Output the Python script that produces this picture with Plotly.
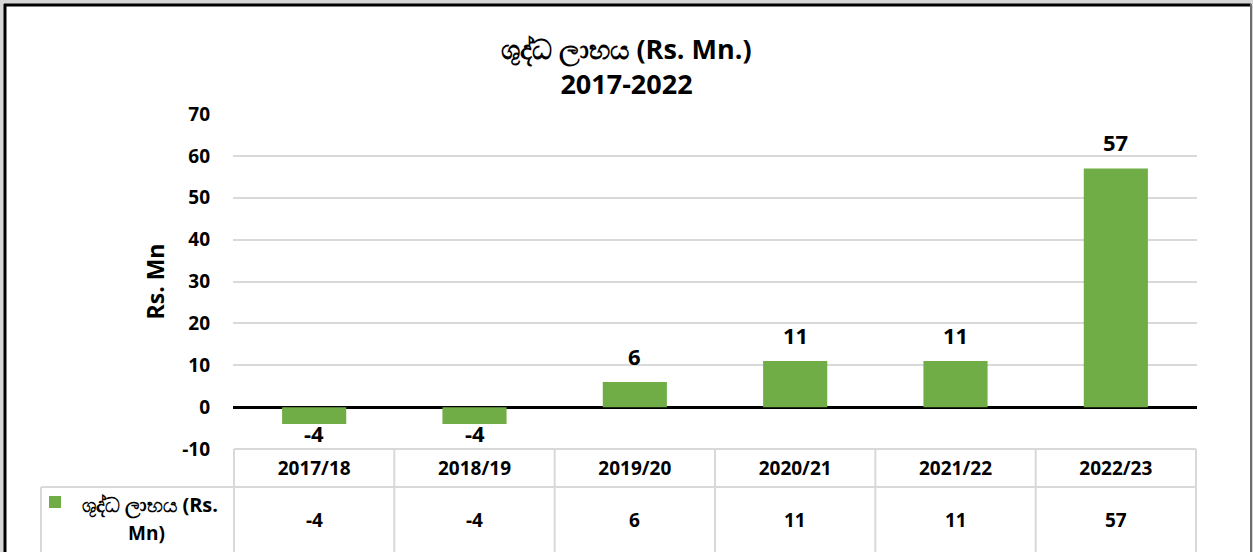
import plotly.graph_objects as go

categories = ["2017/18", "2018/19", "2019/20", "2020/21", "2021/22", "2022/23"]
values = [-4, -4, 6, 11, 11, 57]
series_line1 = "ශුද්ධ ලාභය (Rs."
series_line2 = "Mn)"
title_text = "ශුද්ධ ලාභය (Rs. Mn.)<br>2017-2022"
y_title = "Rs. Mn"
y_ticks = [-10, 0, 10, 20, 30, 40, 50, 60, 70]
y_ticktext = ["-10", "0", "10", "20", "30", "40", "50", "60", "70"]

W, H = 1253, 552
L, R, T, B = 233, 1197, 114, 449  # plot area in pixels
pw, ph = R - L, B - T


def px(x):
    return (x - L) / pw


def py(y):
    return (B - y) / ph


FONT = "Open Sans"
GREEN = "#70ad47"
GRID = "#d9d9d9"

fig = go.Figure()
fig.add_trace(go.Bar(
    x=categories, y=values, marker=dict(color=GREEN, line=dict(width=0)),
    width=0.4, showlegend=False, hoverinfo="skip",
))

shapes = []
# page frame
shapes.append(dict(type="rect", xref="paper", yref="paper", x0=px(5), x1=px(1250),
                   y0=py(600), y1=py(5), fillcolor="white", line=dict(width=0), layer="below"))
shapes.append(dict(type="line", xref="paper", yref="paper", x0=px(4), x1=px(1251),
                   y0=py(5), y1=py(5), line=dict(color="black", width=3)))
shapes.append(dict(type="line", xref="paper", yref="paper", x0=px(5), x1=px(5),
                   y0=py(4), y1=py(600), line=dict(color="black", width=3)))
shapes.append(dict(type="line", xref="paper", yref="paper", x0=px(1251), x1=px(1251),
                   y0=py(4), y1=py(600), line=dict(color="#6e6e6e", width=2)))

# data table grid
tl = dict(color=GRID, width=2)
shapes.append(dict(type="line", xref="x", yref="paper", x0=-0.5, x1=len(categories) - 0.5,
                   y0=0, y1=0, line=tl))
shapes.append(dict(type="line", xref="paper", yref="paper", x0=px(41), x1=1,
                   y0=py(487), y1=py(487), line=tl))
for i in range(len(categories) + 1):
    shapes.append(dict(type="line", xref="x", yref="paper", x0=i - 0.5, x1=i - 0.5,
                       y0=0, y1=py(600), line=tl))
shapes.append(dict(type="line", xref="paper", yref="paper", x0=px(41), x1=px(41),
                   y0=py(487), y1=py(600), line=tl))
# legend key
shapes.append(dict(type="rect", xref="paper", yref="paper", x0=px(49), x1=px(61),
                   y0=py(508), y1=py(496), fillcolor=GREEN, line=dict(width=0)))

tfont = dict(family=FONT, size=19, color="black", weight="bold")
lfont = dict(family=FONT, size=22, color="black", weight="bold")
annotations = []
# data labels
for c, v in zip(categories, values):
    annotations.append(dict(x=c, xref="x", y=v, yref="y", yanchor="middle",
                            yshift=26 if v >= 0 else -9, text=str(v),
                            showarrow=False, font=lfont))
# table values row
for c, v in zip(categories, values):
    annotations.append(dict(x=c, xref="x", y=py(520), yref="paper", yanchor="middle",
                            text=str(v), showarrow=False, font=tfont))
annotations.append(dict(x=px(150), xref="paper", xanchor="center", y=py(505), yref="paper",
                        yanchor="middle", text=series_line1, showarrow=False,
                        font=dict(family=FONT, size=20, color="black", weight="bold")))
annotations.append(dict(x=px(146), xref="paper", xanchor="center", y=py(533), yref="paper",
                        yanchor="middle", text=series_line2, showarrow=False, font=tfont))

fig.update_layout(
    width=W, height=H,
    margin=dict(l=L, r=W - R, t=T, b=H - B, pad=0),
    paper_bgcolor="#d6d6d6", plot_bgcolor="rgba(0,0,0,0)",
    title=dict(text=title_text, x=0.5, xref="container", xanchor="center",
               y=1 - 59 / H, yref="container", yanchor="middle",
               font=dict(family=FONT, size=27, color="black", weight="bold")),
    xaxis=dict(type="category", showgrid=False, showline=False, zeroline=False,
               tickfont=dict(family=FONT, size=19, color="black", weight="bold"),
               ticks="", ticklabelstandoff=6),
    yaxis=dict(range=[-10, 70], tickvals=y_ticks, ticktext=y_ticktext,
               showgrid=True, gridcolor=GRID, gridwidth=2,
               zeroline=True, zerolinecolor="black", zerolinewidth=3, showline=False,
               tickfont=dict(family=FONT, size=19, color="black", weight="bold"),
               ticks="", ticklabelstandoff=22,
               title=dict(text=y_title, standoff=11,
                          font=dict(family=FONT, size=23, color="black", weight="bold"))),
    shapes=shapes, annotations=annotations, bargap=0.6, hovermode=False,
)

fig.write_html("out.html", config={"displayModeBar": False},
               post_script="document.body.style.margin='0';")
